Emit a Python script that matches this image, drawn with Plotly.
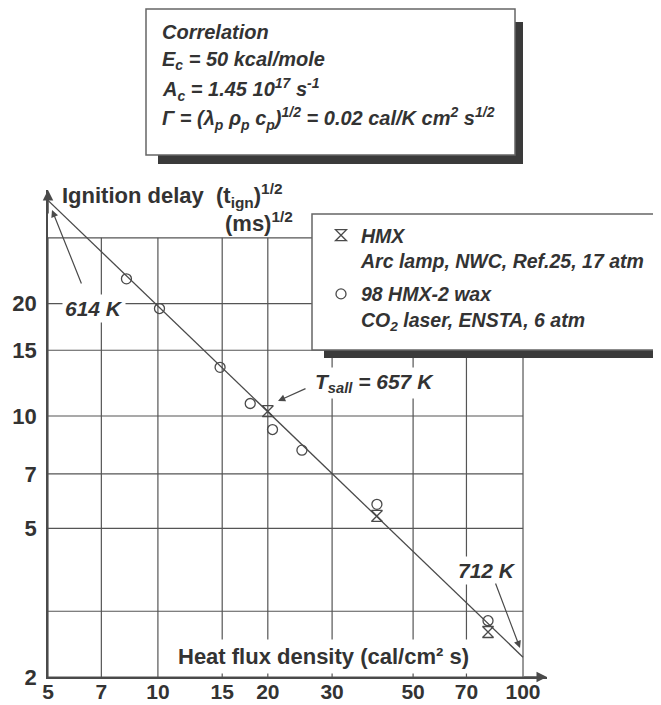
import math
import plotly.graph_objects as go

# ---------------- data ----------------
hmx_flux = [20.0, 39.8, 80.2]
hmx_delay = [10.3, 5.4, 2.64]
wax_flux = [8.2, 10.1, 14.8, 17.9, 20.6, 24.8, 39.8, 80.2]
wax_delay = [23.3, 19.4, 13.5, 10.8, 9.2, 8.1, 5.8, 2.83]
corr_flux = [5, 100]
corr_delay = [37.8, 2.26]
x_tick_vals = [5, 7, 10, 15, 20, 30, 50, 70, 100]
y_tick_vals = [2, 5, 7, 10, 15, 20]
x_grid = [5, 7, 10, 15, 20, 30, 50, 70, 100]
y_grid = [2, 3, 5, 7, 10, 15, 20, 30]

# page body has an 8px margin, so the figure is laid out 8px smaller
W, H = 653, 697
L, R, T, B = 40, 114, 182, 28
PW, PH = W - L - R, H - T - B


def px(x):  # screen pixel -> paper fraction
    return (x - 48) / PW


def py(y):
    return (677 - y) / PH


INK = "#333333"
LINE = "#4a4a4a"
FONT = "Liberation Sans, Arial, sans-serif"

fig = go.Figure()

# grid lines
gx, gy = [], []
for xv in x_grid:
    gx += [xv, xv, None]
    gy += [min(y_grid), max(y_grid), None]
for yv in y_grid:
    gx += [min(x_grid), max(x_grid), None]
    gy += [yv, yv, None]
fig.add_trace(go.Scatter(x=gx, y=gy, mode="lines", line=dict(color="#555555", width=1.2),
                         showlegend=False, hoverinfo="skip"))

# correlation line
fig.add_trace(go.Scatter(x=corr_flux, y=corr_delay, mode="lines",
                         line=dict(color=LINE, width=1.3), showlegend=False))

fig.add_trace(go.Scatter(
    x=hmx_flux, y=hmx_delay, mode="markers", legendgroup="a",
    marker=dict(symbol="hourglass-open", size=11, color=LINE, line=dict(width=1.3, color=LINE)),
    name="<b><i>HMX<br>Arc lamp, NWC, Ref.25, 17 atm</i></b>"))
fig.add_trace(go.Scatter(
    x=wax_flux, y=wax_delay, mode="markers", legendgroup="b",
    marker=dict(symbol="circle-open", size=10, color=LINE, line=dict(width=1.3, color=LINE)),
    name="<b><i>98 HMX-2 wax<br>CO<sub>2</sub> laser, ENSTA, 6 atm</i></b>"))

shapes = [
    # correlation box with shadow
    dict(type="rect", xref="paper", yref="paper", x0=px(158), x1=px(523), y0=py(164), y1=py(22),
         fillcolor="#3a3a3a", line=dict(width=0)),
    dict(type="rect", xref="paper", yref="paper", x0=px(146), x1=px(515), y0=py(155), y1=py(9),
         fillcolor="white", line=dict(color="#666666", width=1.5)),
    # legend box with shadow
    dict(type="rect", xref="paper", yref="paper", x0=px(324), x1=px(675), y0=py(358), y1=py(222),
         fillcolor="#3a3a3a", line=dict(width=0), layer="above"),
    dict(type="rect", xref="paper", yref="paper", x0=px(312), x1=px(659), y0=py(350), y1=py(214),
         fillcolor="white", line=dict(color="#666666", width=1.5), layer="above"),
]

ann = []
ifont = dict(family=FONT, size=20, color=INK)
bfont = dict(family=FONT, size=22, color=INK)

corr_lines = [
    ("<b><i>Correlation</i></b>", 32),
    ("<b><i>E<sub>c</sub> = 50 kcal/mole</i></b>", 61),
    ("<b><i>A<sub>c</sub> = 1.45 10<sup>17</sup> s<sup>-1</sup></i></b>", 89),
    ("<b><i>Γ = (λ<sub>p</sub> ρ<sub>p</sub> c<sub>p</sub>)<sup>1/2</sup> = 0.02 cal/K cm<sup>2</sup> s<sup>1/2</sup></i></b>", 118),
]
for txt, yc in corr_lines:
    ann.append(dict(text=txt, xref="paper", yref="paper", x=px(160), y=py(yc),
                    xanchor="left", yanchor="middle", showarrow=False, font=ifont))

# axis titles
ann.append(dict(text="<b>Ignition delay  (t<sub>ign</sub>)<sup>1/2</sup></b>", xref="paper", yref="paper",
                x=px(60), y=py(195), xanchor="left", yanchor="middle", showarrow=False, font=bfont))
ann.append(dict(text="<b>(ms)<sup>1/2</sup></b>", xref="paper", yref="paper",
                x=px(223), y=py(222), xanchor="left", yanchor="middle", showarrow=False, font=bfont))
ann.append(dict(text="<b>Heat flux density (cal/cm² s)</b>", xref="paper", yref="paper",
                x=px(173), y=py(656), xanchor="left", yanchor="middle", showarrow=False, font=bfont,
                bgcolor="white", borderpad=4))

# temperature labels
for txt, x0, yc in [("<b><i>614 K</i></b>", 62, 308),
                    ("<b><i>T<sub>sall</sub> = 657 K</i></b>", 312, 383),
                    ("<b><i>712 K</i></b>", 455, 570)]:
    ann.append(dict(text=txt, xref="paper", yref="paper", x=px(x0), y=py(yc),
                    xanchor="left", yanchor="middle", showarrow=False,
                    font=dict(family=FONT, size=21, color=INK), bgcolor="white", borderpad=2))

# pointer arrows (head, tail in pixels)
for hx, hy, tx, ty in [(52, 210, 82, 285), (278, 401, 307, 388), (520, 648, 495, 582)]:
    ann.append(dict(text="", xref="paper", yref="paper", x=px(hx), y=py(hy),
                    ax=tx - hx, ay=ty - hy, showarrow=True, arrowhead=2, arrowsize=1.2,
                    arrowwidth=1.2, arrowcolor=LINE))

# axis arrowheads
ann.append(dict(text="", xref="paper", yref="paper", x=0, y=1, ax=0, ay=25, showarrow=True,
                arrowhead=2, arrowsize=1.4, arrowwidth=1.5, arrowcolor=LINE))
ann.append(dict(text="", xref="paper", yref="paper", x=1, y=0, ax=-25, ay=0, showarrow=True,
                arrowhead=2, arrowsize=1.4, arrowwidth=1.5, arrowcolor=LINE))

fig.update_layout(
    width=W, height=H,
    margin=dict(l=L, r=R, t=T, b=B, pad=0, autoexpand=False),
    paper_bgcolor="white", plot_bgcolor="white",
    shapes=shapes, annotations=ann,
    legend=dict(x=px(321), y=py(216), xanchor="left", yanchor="top", valign="top",
                bgcolor="rgba(0,0,0,0)", borderwidth=0,
                font=dict(family=FONT, size=19.5, color=INK), tracegroupgap=5),
    xaxis=dict(type="log", range=[math.log10(5), math.log10(5) + PW / 365.1], automargin=False,
               showgrid=False, zeroline=False, showline=True, linecolor=LINE, linewidth=1.5,
               tickmode="array", tickvals=x_tick_vals, ticktext=[str(v) for v in x_tick_vals],
               ticks="", ticklabelstandoff=-5,
               tickfont=dict(family=FONT, size=21, color=INK, weight="bold")),
    yaxis=dict(type="log", range=[math.log10(2), math.log10(2) + PH / 373.4], automargin=False,
               showgrid=False, zeroline=False, showline=True, linecolor=LINE, linewidth=1.5,
               tickmode="array", tickvals=y_tick_vals, ticktext=[str(v) for v in y_tick_vals],
               ticks="", ticklabelstandoff=5,
               tickfont=dict(family=FONT, size=22, color=INK, weight="bold")),
)

fig.write_html("out.html")
